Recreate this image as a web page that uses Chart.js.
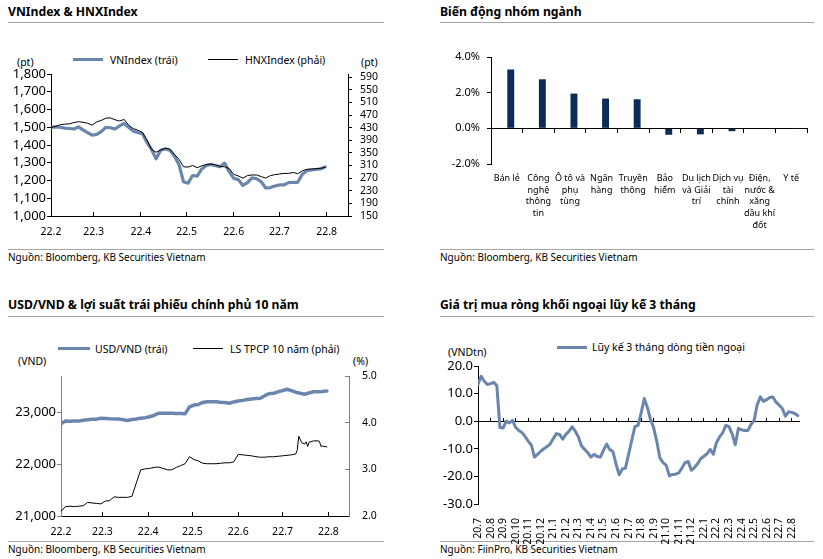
<!DOCTYPE html>
<html>
<head>
<meta charset="utf-8">
<script src="https://cdn.jsdelivr.net/npm/chart.js@4.4.1/dist/chart.umd.min.js"></script>
<style>
  body { margin: 0; width: 823px; height: 559px; background: #fff; position: relative; overflow: hidden;
         font-family: "Noto Sans", sans-serif; color: #000; }
  .abs { position: absolute; white-space: nowrap; }
  .title { font-weight: bold; font-size: 12.2px; line-height: 16px; }
  .src { font-size: 10px; line-height: 14px; }
  .txt { font-size: 10.5px; line-height: 14px; }
  .rule { position: absolute; height: 1px; background: #a6a6a6; }
  .sw { position: absolute; }
  canvas { position: absolute; }
</style>
</head>
<body>

<!-- titles and rules -->
<div class="abs title" style="left:8px;top:4px">VNIndex &amp; HNXIndex</div>
<div class="abs title" style="left:440px;top:4px">Biến động nhóm ngành</div>
<div class="abs title" style="left:8px;top:297px">USD/VND &amp; lợi suất trái phiếu chính phủ 10 năm</div>
<div class="abs title" style="left:440px;top:297px">Giá trị mua ròng khối ngoại lũy kế 3 tháng</div>
<div class="rule" style="left:8px;top:22px;width:376px"></div>
<div class="rule" style="left:440px;top:22px;width:374px"></div>
<div class="rule" style="left:8px;top:316px;width:376px"></div>
<div class="rule" style="left:440px;top:316px;width:374px"></div>
<div class="rule" style="left:8px;top:249px;width:376px"></div>
<div class="rule" style="left:440px;top:249px;width:374px"></div>
<div class="rule" style="left:8px;top:541px;width:376px"></div>
<div class="rule" style="left:440px;top:541px;width:374px"></div>
<div class="abs src" style="left:8px;top:250px">Nguồn: Bloomberg, KB Securities Vietnam</div>
<div class="abs src" style="left:440px;top:250px">Nguồn: Bloomberg, KB Securities Vietnam</div>
<div class="abs src" style="left:8px;top:542px">Nguồn: Bloomberg, KB Securities Vietnam</div>
<div class="abs src" style="left:440px;top:542px">Nguồn: FiinPro, KB Securities Vietnam</div>

<!-- legends and units -->
<div class="sw" style="left:73px;top:58px;width:30px;height:3px;background:#6a86ad"></div>
<div class="abs txt" style="left:110px;top:53px">VNIndex (trái)</div>
<div class="sw" style="left:208px;top:59px;width:30px;height:1px;background:#000"></div>
<div class="abs txt" style="left:245px;top:53px">HNXIndex (phải)</div>
<div class="abs txt" style="left:17px;top:55px">(pt)</div>
<div class="abs txt" style="left:361px;top:55px">(pt)</div>

<div class="sw" style="left:58px;top:347px;width:32px;height:3px;background:#6a86ad"></div>
<div class="abs txt" style="left:95px;top:342px">USD/VND (trái)</div>
<div class="sw" style="left:193px;top:348px;width:30px;height:1px;background:#000"></div>
<div class="abs txt" style="left:230px;top:342px">LS TPCP 10 năm (phải)</div>
<div class="abs txt" style="left:18px;top:354px">(VND)</div>
<div class="abs txt" style="left:353px;top:354px">(%)</div>

<div class="sw" style="left:557px;top:346px;width:30px;height:3px;background:#6a86ad"></div>
<div class="abs txt" style="left:592px;top:340px">Lũy kế 3 tháng dòng tiền ngoại</div>
<div class="abs txt" style="left:448px;top:345px">(VNDtn)</div>

<canvas id="c1" width="410" height="195" style="left:0;top:60px"></canvas>
<canvas id="c2" width="413" height="205" style="left:410px;top:45px"></canvas>
<canvas id="c3" width="410" height="190" style="left:0;top:360px"></canvas>
<canvas id="c4" width="413" height="195" style="left:410px;top:355px"></canvas>

<script>
// x positions: days since 1 Feb 2022
const tradeDays = [0, 3, 6, 9, 12, 15, 18, 21, 24, 27, 30, 33, 36, 39, 42, 45, 48, 51, 54, 57, 60,
  63, 66, 69, 72, 75, 78, 81, 84, 87, 90, 93, 96, 99, 102, 105, 108, 111, 114, 117, 120,
  123, 126, 129, 132, 135, 138, 141, 144, 147, 150, 153, 156, 159, 162, 165, 168, 171, 174, 177, 180];
const monthStartDays = [0, 28, 59, 89, 120, 150, 181];
const monthLabels = ['22.2', '22.3', '22.4', '22.5', '22.6', '22.7', '22.8'];

const vnIndex = [1500, 1502, 1500, 1495, 1493, 1490, 1502, 1485, 1470, 1455, 1460, 1475, 1500, 1497, 1490,
  1508, 1522, 1500, 1478, 1470, 1463, 1415, 1375, 1322, 1370, 1378, 1370, 1338, 1290, 1193, 1185,
  1228, 1225, 1265, 1285, 1290, 1283, 1278, 1298, 1250, 1212, 1205, 1172, 1188, 1215, 1210, 1193,
  1158, 1160, 1169, 1175, 1175, 1188, 1190, 1190, 1235, 1255, 1259, 1262, 1265, 1277];
const hnxIndex = [431, 434, 439, 441, 442, 446, 449, 447, 444, 438, 448, 453, 460, 461, 455,
  451, 456, 438, 427, 422, 415, 391, 361, 352, 359, 365, 362, 345, 330, 306, 305,
  310, 303, 309, 313, 315, 312, 307, 306, 300, 282, 277, 270, 278, 280, 280, 275,
  270, 278, 281, 283, 285, 285, 288, 284, 293, 298, 299, 300, 301, 304];
const vnTicks = [1000, 1100, 1200, 1300, 1400, 1500, 1600, 1700, 1800];
const hnxTicks = [150, 190, 230, 270, 310, 350, 390, 430, 470, 510, 550, 590];

const sectorLabels = [['Bán lẻ'], ['Công', 'nghệ', 'thông', 'tin'], ['Ô tô và', 'phụ', 'tùng'], ['Ngân', 'hàng'],
  ['Truyền', 'thông'], ['Bảo', 'hiểm'], ['Du lịch', 'và Giải', 'trí'], ['Dịch vụ', 'tài', 'chính'],
  ['Điện,', 'nước &', 'xăng', 'dầu khí', 'đốt'], ['Y tế']];
const sectorChange = [3.3, 2.75, 1.95, 1.67, 1.63, -0.36, -0.34, -0.16, -0.02, -0.01];
const sectorSpacer = [null, null, null, null, null, null, null, null, null, null];
const sectorTicks = [-2, 0, 2, 4];

const usdVnd = [22780, 22830, 22825, 22830, 22830, 22845, 22855, 22865, 22868, 22885, 22880, 22875, 22872,
  22870, 22858, 22842, 22860, 22870, 22887, 22897, 22915, 22940, 22981, 22981, 22980, 22980, 22978,
  22975, 22970, 23105, 23140, 23150, 23190, 23205, 23205, 23203, 23192, 23190, 23175, 23200, 23218,
  23230, 23245, 23258, 23265, 23270, 23320, 23360, 23368, 23395, 23417, 23445, 23418, 23388, 23367,
  23348, 23375, 23397, 23398, 23403, 23410];
const bondDays = [0, 3, 6, 9, 12, 15, 18, 21, 24, 27, 30, 33, 36, 39, 42, 45, 48, 51, 54, 57, 60,
  63, 66, 69, 72, 75, 78, 81, 84, 87, 90, 93, 96, 99, 102, 105, 108, 111, 114, 117, 120,
  123, 126, 129, 132, 135, 138, 141, 144, 147, 150, 153, 156, 159, 160, 161, 163, 165, 166, 167, 168,
  171, 174, 175, 176, 177, 180];
const bondYield = [2.1, 2.2, 2.21, 2.2, 2.21, 2.22, 2.29, 2.28, 2.27, 2.26, 2.32, 2.33, 2.41, 2.4, 2.4,
  2.4, 2.42, 2.71, 2.99, 3.01, 3.02, 3.04, 3.05, 3.02, 2.99, 2.99, 3.04, 3.08, 3.12, 3.27, 3.21,
  3.18, 3.13, 3.12, 3.12, 3.12, 3.13, 3.14, 3.14, 3.16, 3.32, 3.31, 3.3, 3.29, 3.27, 3.26, 3.26,
  3.27, 3.27, 3.28, 3.29, 3.3, 3.31, 3.33, 3.42, 3.71, 3.57, 3.54, 3.59, 3.49, 3.58,
  3.61, 3.61, 3.6, 3.49, 3.5, 3.48];
const usdTicks = [21000, 22000, 23000];
const yieldTicks = [2, 3, 4, 5];

// x positions: months since Jul 2020
const flowMonths = [0, 0.25, 0.5, 0.75, 1, 1.25, 1.5, 1.75, 2, 2.25, 2.5, 2.75, 3, 3.25, 3.5, 3.75,
  4, 4.25, 4.5, 4.75, 5, 5.25, 5.5, 5.75, 6, 6.25, 6.5, 6.75, 7, 7.25, 7.5, 7.75,
  8, 8.25, 8.5, 8.75, 9, 9.25, 9.5, 9.75, 10, 10.25, 10.5, 10.75, 11, 11.25, 11.5, 11.75,
  12, 12.25, 12.5, 12.75, 13, 13.25, 13.5, 13.75, 14, 14.25, 14.5, 14.75, 15, 15.25, 15.5, 15.75,
  16, 16.25, 16.5, 16.75, 17, 17.25, 17.5, 17.75, 18, 18.25, 18.5, 18.75, 19, 19.25, 19.5, 19.75,
  20, 20.25, 20.5, 20.75, 21, 21.25, 21.5, 21.75, 22, 22.25, 22.5, 22.75, 23, 23.25, 23.5, 23.75,
  24, 24.25, 24.5, 24.75, 25, 25.25, 25.5];
const foreignFlow = [13.3, 16.3, 14.5, 13.3, 13.6, 14.1, 12.9, -2.3, -2.5, 0, -0.6, 0.3, -2.2, -3.4, -4.1, -5.5,
  -7.2, -8.6, -13, -12, -10.9, -10, -9.2, -8.3, -6.3, -4.5, -4.8, -6.5, -4.8, -3.7, -2, -3.6,
  -5.7, -9, -10.2, -11.4, -13, -12, -12.8, -13, -10.6, -8.3, -10.3, -11, -15.5, -19.4, -17.3, -17,
  -12, -7, -2, -1.5, 3, 8.2, 5, 0.6, -2.4, -7.4, -13.4, -15, -16, -19.8, -19.3, -19.2,
  -18.7, -17, -15, -14.6, -17.8, -16.8, -15.4, -13.6, -12.7, -11.8, -10.2, -12, -7.8, -5.7, -4.2, -1.5,
  -2, -4.6, -8.5, -2.6, -3.1, -3.4, -3.4, -1.2, 0.2, 6, 8.8, 7.2, 7.8, 8.6, 8.8, 6.9,
  5.8, 4.6, 1.8, 3.4, 3.2, 2.8, 2];
const flowTickMonths = [0, 1, 2, 3, 4, 5, 6, 7, 8, 9, 10, 11, 12, 13, 14, 15, 16, 17, 18, 19, 20, 21, 22, 23, 24, 25];
const flowMonthLabels = ['20.7', '20.8', '20.9', '20.10', '20.11', '20.12', '21.1', '21.2', '21.3', '21.4',
  '21.5', '21.6', '21.7', '21.8', '21.9', '21.10', '21.11', '21.12', '22.1', '22.2', '22.3', '22.4',
  '22.5', '22.6', '22.7', '22.8'];
const flowTicks = [-30, -20, -10, 0, 10, 20];

const BLUE = '#6a86ad';
const NAVY = '#0b2c56';
const FAMILY = '"Noto Sans", sans-serif';
const tickFont = { family: FAMILY, size: 10.5 };
const leftFont = { family: FAMILY, size: 13 };

Chart.defaults.font.family = FAMILY;
Chart.defaults.color = '#000';

const fixWidth = w => s => { s.width = w; s.paddingTop = Math.min(s.paddingTop, 7); s.paddingBottom = Math.min(s.paddingBottom, 7); };
const fixHeight = h => s => { s.height = h; };
const setTicks = values => s => { s.ticks = values.map(v => ({ value: v })); };
const pts = (xs, ys) => xs.map((x, i) => ({ x, y: ys[i] }));
const thousands = v => String(v).replace(/\B(?=(\d{3})+(?!\d))/g, ',');

function baseOptions(padding) {
  return {
    responsive: false,
    animation: false,
    devicePixelRatio: 1,
    events: [],
    layout: { padding },
    plugins: { legend: { display: false }, tooltip: { enabled: false } },
    elements: { point: { radius: 0 }, line: { tension: 0, borderJoinStyle: 'round', borderCapStyle: 'round' } }
  };
}

function axisLine(color, tickLength) {
  return {
    border: { color, width: 1 },
    grid: { drawOnChartArea: false, tickLength, color, tickWidth: 1 }
  };
}

// VNIndex & HNXIndex
new Chart(document.getElementById('c1'), {
  type: 'line',
  data: {
    datasets: [
      { label: 'VNIndex (trái)', data: pts(tradeDays, vnIndex), yAxisID: 'y', borderColor: BLUE, borderWidth: 3.2, order: 1 },
      { label: 'HNXIndex (phải)', data: pts(tradeDays, hnxIndex), yAxisID: 'y1', borderColor: '#000', borderWidth: 1, order: 0 }
    ]
  },
  options: {
    ...baseOptions({ top: 14, bottom: 9, left: 0, right: 0 }),
    scales: {
      x: {
        type: 'linear', min: 0, max: 195,
        afterBuildTicks: setTicks(monthStartDays), afterFit: fixHeight(30),
        ...axisLine('#000', -4),
        ticks: { autoSkip: false, maxRotation: 0, padding: 14, font: tickFont, callback: (v, i) => monthLabels[i] }
      },
      y: {
        position: 'left', min: 1000, max: 1800,
        afterBuildTicks: setTicks(vnTicks), afterFit: fixWidth(51),
        ...axisLine('#000', 4),
        ticks: { autoSkip: false, padding: 1, font: leftFont, callback: v => thousands(v) }
      },
      y1: {
        position: 'right', min: 150, max: 600,
        afterBuildTicks: setTicks(hnxTicks), afterFit: fixWidth(62),
        ...axisLine('#000', 4),
        ticks: { autoSkip: false, padding: 8, font: tickFont }
      }
    }
  }
});

// Biến động nhóm ngành
new Chart(document.getElementById('c2'), {
  type: 'bar',
  data: {
    labels: sectorLabels,
    datasets: [
      { data: sectorSpacer, backgroundColor: 'rgba(0,0,0,0)' },
      { data: sectorChange, backgroundColor: NAVY }
    ]
  },
  options: {
    ...baseOptions({ top: 12, bottom: 16, left: 0, right: 16 }),
    datasets: { bar: { categoryPercentage: 0.5, barPercentage: 0.875 } },
    scales: {
      x: {
        afterFit: fixHeight(70),
        border: { display: false }, grid: { display: false },
        ticks: { autoSkip: false, maxRotation: 0, padding: 0, font: { family: FAMILY, size: 9, lineHeight: 1.33 } }
      },
      x2: {
        type: 'category', position: { y: 0 }, offset: true,
        border: { color: '#000' },
        grid: { offset: true, drawOnChartArea: false, tickLength: 4, color: '#000' },
        ticks: { display: false }
      },
      y: {
        min: -2, max: 4,
        afterBuildTicks: setTicks(sectorTicks), afterFit: fixWidth(81),
        ...axisLine('#000', 4),
        ticks: { autoSkip: false, padding: 7, font: { family: FAMILY, size: 11 }, callback: v => v.toFixed(1) + '%' }
      }
    }
  }
});

// USD/VND & lợi suất TPCP 10 năm
new Chart(document.getElementById('c3'), {
  type: 'line',
  data: {
    datasets: [
      { label: 'USD/VND (trái)', data: pts(tradeDays, usdVnd), yAxisID: 'y', borderColor: BLUE, borderWidth: 3.5 },
      { label: 'LS TPCP 10 năm (phải)', data: pts(bondDays, bondYield), yAxisID: 'y1', borderColor: '#000', borderWidth: 1 }
    ]
  },
  options: {
    ...baseOptions({ top: 16, bottom: 8, left: 0, right: 0 }),
    scales: {
      x: {
        type: 'linear', min: 0, max: 195,
        afterBuildTicks: setTicks(monthStartDays), afterFit: fixHeight(26),
        ...axisLine('#000', -4),
        ticks: { autoSkip: false, maxRotation: 0, padding: 14, font: tickFont, callback: (v, i) => monthLabels[i] }
      },
      y: {
        position: 'left', min: 21000, max: 23700,
        afterBuildTicks: setTicks(usdTicks), afterFit: fixWidth(61),
        ...axisLine('#808080', 4),
        ticks: { autoSkip: false, padding: 1, font: leftFont, callback: v => thousands(v) }
      },
      y1: {
        position: 'right', min: 2, max: 5,
        afterBuildTicks: setTicks(yieldTicks), afterFit: fixWidth(61),
        ...axisLine('#808080', -4),
        ticks: { autoSkip: false, padding: 17, font: tickFont, callback: v => v.toFixed(1) }
      }
    }
  }
});

// Giá trị mua ròng khối ngoại lũy kế 3 tháng
new Chart(document.getElementById('c4'), {
  type: 'line',
  data: {
    datasets: [
      { label: 'Lũy kế 3 tháng dòng tiền ngoại', data: pts(flowMonths, foreignFlow), xAxisID: 'x', yAxisID: 'y', borderColor: BLUE, borderWidth: 3 }
    ]
  },
  options: {
    ...baseOptions({ top: 11, bottom: 6, left: 0, right: 23.5 }),
    scales: {
      x: {
        type: 'linear', min: 0, max: 25.62,
        afterBuildTicks: setTicks(flowTickMonths), afterFit: fixHeight(40),
        border: { display: false }, grid: { display: false },
        ticks: { autoSkip: false, minRotation: 90, maxRotation: 90, padding: 6, font: tickFont, callback: (v, i) => flowMonthLabels[i] }
      },
      x2: {
        type: 'linear', position: { y: 0 }, min: 0, max: 25.62,
        afterBuildTicks: setTicks(flowTickMonths),
        ...axisLine('#000', -4),
        ticks: { display: false }
      },
      y: {
        min: -30, max: 20,
        afterBuildTicks: setTicks(flowTicks), afterFit: fixWidth(68),
        ...axisLine('#000', 4),
        ticks: { autoSkip: false, padding: 1, font: leftFont, callback: v => v.toFixed(1) }
      }
    }
  }
});
</script>
</body>
</html>
